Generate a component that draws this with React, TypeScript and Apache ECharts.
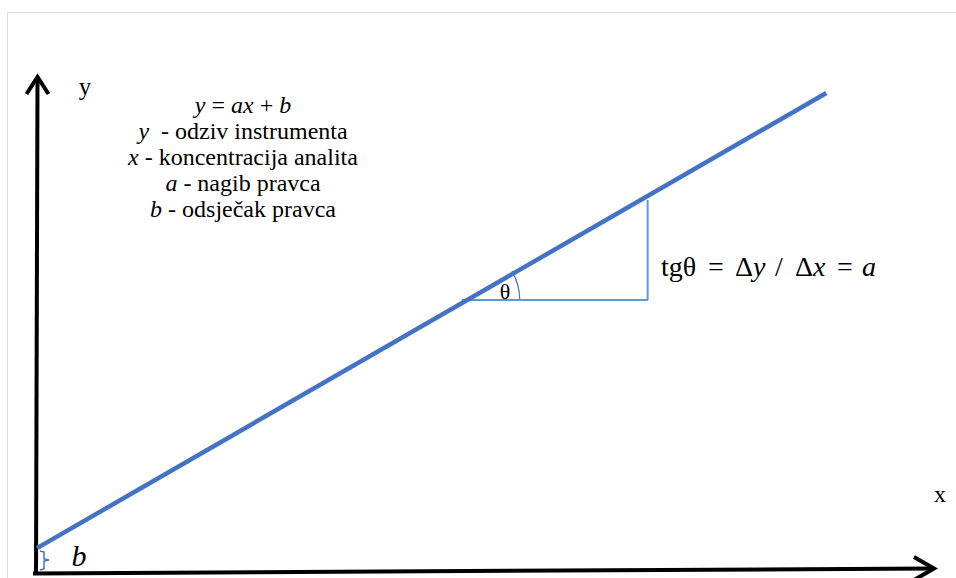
import React, { useEffect, useRef } from "react";
import * as echarts from "echarts";

// Calibration line y = a·x + b (arbitrary units, 0..100 on both axes)
const concentration = [0, 87.9];
const response = [5.2, 96.6];
// Slope triangle: Δx along the bottom, Δy up the right side
const triangleX = [47.3, 68.0, 68.0];
const triangleY = [55.0, 55.0, 75.1];

const legendLines = [
  "{i|y}{r| = }{i|ax}{r| + }{i|b}",
  "{i|y}{r|  - odziv instrumenta}",
  "{i|x}{r| - koncentracija analita}",
  "{i|a}{r| - nagib pravca}",
  "{i|b}{r| - odsječak pravca}",
];
const formulaParts = ["{r|tgθ}", "{r|=}", "{r|Δ}{i|y}", "{r|/}", "{r|Δ}{i|x}", "{r|=}", "{i|a}"];

const SERIF = "'Liberation Serif', 'Times New Roman', serif";

export default function App() {
  const ref = useRef<HTMLDivElement>(null);
  useEffect(() => {
    if (!ref.current) return;
    const chart = echarts.init(ref.current, undefined, { renderer: "svg" });
    chart.setOption({
      animation: false,
      backgroundColor: "#ffffff",
      grid: { left: 37, right: 21, top: 76, bottom: 4, containLabel: false },
      xAxis: { type: "value", min: 0, max: 100, show: false },
      yAxis: { type: "value", min: 0, max: 100, show: false },
      series: [
        {
          type: "line",
          data: concentration.map((x, i) => [x, response[i]]),
          symbol: "none",
          lineStyle: { color: "#4472C4", width: 4.5 },
          z: 5,
        },
        {
          type: "line",
          data: triangleX.map((x, i) => [x, triangleY[i]]),
          symbol: "none",
          lineStyle: { color: "#5B9BD5", width: 2 },
          z: 4,
        },
      ],
    });
    const c = chart.convertToPixel({ gridIndex: 0 }, [triangleX[0], triangleY[0]]) as number[];
    const rich = (size: number) => ({
      r: { font: `${size}px ${SERIF}`, fill: "#000" },
      i: { font: `italic ${size}px ${SERIF}`, fill: "#000" },
    });
    const legendY = [104.5, 130.5, 156.5, 182.5, 209];
    const formulaX = [661, 708, 735, 775, 795, 837, 862];
    const plain = (text: string, size: number, x: number, y: number, style = "") => ({
      type: "text",
      x,
      y,
      style: {
        text,
        font: `${style} ${size}px ${SERIF}`.trim(),
        fill: "#000",
        align: "center",
        verticalAlign: "middle",
      },
      z: 6,
    });
    chart.setOption({
      graphic: [
        {
          type: "rect",
          shape: { x: 7.5, y: 12.5, width: 1000, height: 600 },
          style: { fill: "none", stroke: "#d9d9d9", lineWidth: 1 },
          z: 0,
        },
        // y axis
        {
          type: "polyline",
          shape: { points: [[37.5, 78], [36, 575]] },
          style: { stroke: "#000", lineWidth: 4, fill: "none" },
          z: 3,
        },
        {
          type: "polyline",
          shape: { points: [[26.5, 94], [37.5, 77], [48.5, 94]] },
          style: { stroke: "#000", lineWidth: 4, fill: "none", lineJoin: "miter" },
          z: 3,
        },
        // x axis
        {
          type: "polyline",
          shape: { points: [[33, 573.5], [932, 568.5]] },
          style: { stroke: "#000", lineWidth: 4, fill: "none" },
          z: 3,
        },
        {
          type: "polyline",
          shape: { points: [[914, 557], [934, 568.5], [914, 580]] },
          style: { stroke: "#000", lineWidth: 4, fill: "none", lineJoin: "miter" },
          z: 3,
        },
        // intercept brace
        {
          type: "polyline",
          shape: {
            points: [[40, 551], [44, 552], [44, 559], [49, 560], [44, 561], [44, 569], [40, 570]],
          },
          style: { stroke: "#4472C4", lineWidth: 1.5, fill: "none" },
          z: 3,
        },
        // angle arc
        {
          type: "arc",
          shape: { cx: c[0], cy: c[1], r: 58, startAngle: -Math.PI / 6, endAngle: 0, clockwise: true },
          style: { stroke: "#4472C4", lineWidth: 1.2, fill: "none" },
          z: 3,
        },
        plain("θ", 22, 505, 291.5),
        plain("y", 25, 85, 86),
        plain("x", 24, 940, 494),
        plain("b", 30, 79, 555, "italic"),
        ...formulaParts.map((t, k) => ({
          type: "text",
          x: formulaX[k],
          y: 266,
          style: {
            text: t,
            font: `28px ${SERIF}`,
            align: "left",
            verticalAlign: "middle",
            rich: rich(28),
          },
          z: 6,
        })),
        ...legendLines.map((t, k) => ({
          type: "text",
          x: 243,
          y: legendY[k],
          style: {
            text: t,
            font: `24px ${SERIF}`,
            align: "center",
            verticalAlign: "middle",
            rich: rich(24),
          },
          z: 6,
        })),
      ],
    });
    return () => chart.dispose();
  }, []);
  return (
    <div
      ref={ref}
      style={{ position: "absolute", left: 0, top: 0, width: 956, height: 578 }}
    />
  );
}
